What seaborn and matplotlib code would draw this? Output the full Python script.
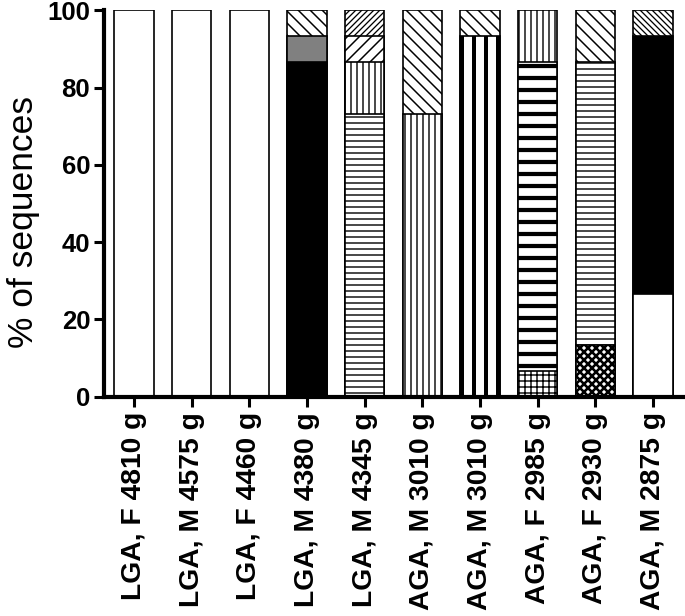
import numpy as np
import pandas as pd
import matplotlib
matplotlib.use("Agg")
import matplotlib.pyplot as plt
import seaborn as sns

labels = ["LGA, F 4810 g", "LGA, M 4575 g", "LGA, F 4460 g", "LGA, M 4380 g",
          "LGA, M 4345 g", "AGA, M 3010 g", "AGA, M 3010 g", "AGA, F 2985 g",
          "AGA, F 2930 g", "AGA, M 2875 g"]

# % of sequences per variant, stacked bottom to top in this order
white       = [100, 100, 100, 0, 0, 0, 0, 0, 0, 26.7]
checker     = [0, 0, 0, 0, 0, 0, 0, 0, 13.3, 0]
grid        = [0, 0, 0, 0, 0, 0, 0, 6.7, 0, 0]
black       = [0, 0, 0, 86.7, 0, 0, 0, 0, 0, 66.6]
horiz_fine  = [0, 0, 0, 0, 73.3, 0, 0, 0, 73.4, 0]
horiz_thick = [0, 0, 0, 0, 0, 0, 0, 80.0, 0, 0]
vert_thick  = [0, 0, 0, 0, 0, 0, 93.3, 0, 0, 0]
vert_fine   = [0, 0, 0, 0, 13.4, 73.3, 0, 13.3, 0, 0]
grey        = [0, 0, 0, 6.6, 0, 0, 0, 0, 0, 0]
fwd_wide    = [0, 0, 0, 0, 6.6, 0, 0, 0, 0, 0]
fwd_fine    = [0, 0, 0, 0, 6.7, 0, 0, 0, 0, 0]
back_wide   = [0, 0, 0, 6.7, 0, 26.7, 6.7, 0, 13.3, 0]
back_fine   = [0, 0, 0, 0, 0, 0, 0, 0, 0, 6.7]

# (values, face, hatch, hatch linewidth)
layers = [
    (white, "white", None, 1.0),
    (checker, "white", "xxx", 2.6),
    (grid, "white", "++", 1.4),
    (black, "black", None, 1.0),
    (horiz_fine, "white", "--", 1.4),
    (horiz_thick, "white", "-", 4.2),
    (vert_thick, "white", "|", 4.0),
    (vert_fine, "white", "||", 1.4),
    (grey, "#808080", None, 1.0),
    (fwd_wide, "white", "//", 1.5),
    (fwd_fine, "white", "////", 1.3),
    (back_wide, "white", "\\\\", 1.5),
    (back_fine, "white", "\\\\\\\\", 1.3),
]

sns.set_style("ticks")
plt.rcParams['font.family'] = ['Liberation Sans', 'DejaVu Sans']
plt.rcParams['text.color'] = 'black'
plt.rcParams['axes.labelcolor'] = 'black'

# dpi 72 so one point is one pixel (hatch spacing comes out closer to the original)
S = 100 / 72
fig = plt.figure(figsize=(685 / 72, 616 / 72), dpi=72)
ax = fig.add_axes([0.152, 0.356, 0.845, 0.627])

cums = np.cumsum([np.array(l[0], dtype=float) for l in layers], axis=0)
pos = list(range(len(labels)))

# draw cumulative heights from the top layer down so lower segments cover upper ones
for i in range(len(layers) - 1, -1, -1):
    vals, face, hatch, hlw = layers[i]
    df = pd.DataFrame({"pos": pos, "cum": cums[i]})
    n0 = len(ax.patches)
    sns.barplot(data=df, x="pos", y="cum", color=face, edgecolor="black",
                linewidth=1.2 * S, width=0.68, errorbar=None, saturation=1,
                ax=ax)
    for j, p in enumerate(ax.patches[n0:]):
        p.set_facecolor(face)
        if vals[j] == 0:
            p.set_visible(False)
            continue
        if hatch:
            p.set_hatch(hatch)
            if hasattr(p, "set_hatch_linewidth"):
                p.set_hatch_linewidth(hlw)

ax.set_xlim(-0.52, 9.52)
ax.set_ylim(0, 100)
ax.set_yticks([0, 20, 40, 60, 80, 100])
ax.set_xticks(pos)
ax.set_xticklabels(labels, rotation=90, fontsize=20.3 * S, fontweight="bold")
for t in ax.get_yticklabels():
    t.set_fontsize(18.5 * S)
    t.set_fontweight("bold")
ax.set_xlabel("")
ax.set_ylabel("% of sequences", fontsize=25.5 * S)
ax.yaxis.set_label_coords(-0.11, 0.453)
ax.tick_params(axis="both", width=2.2 * S, length=7 * S, color="black",
               labelcolor="black")
ax.tick_params(axis="y", pad=3 * S)
ax.tick_params(axis="x", pad=4 * S)
sns.despine(ax=ax)
for s in ["left", "bottom"]:
    ax.spines[s].set_linewidth(3 * S)
    ax.spines[s].set_color("black")

fig.savefig("out.png", dpi=72)
